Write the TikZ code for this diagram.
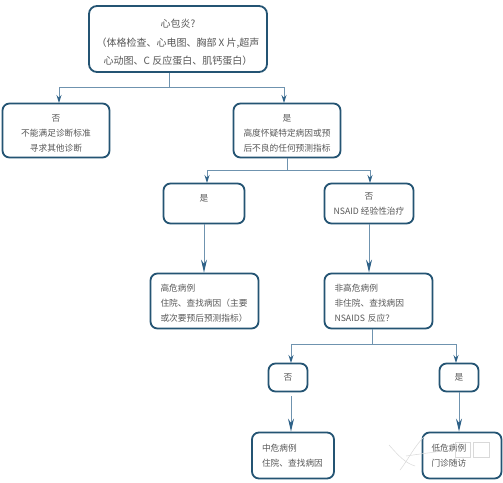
\documentclass[tikz,border=0pt]{standalone}
\usepackage{fontspec}
\setmainfont{Noto Sans CJK SC}
\usetikzlibrary{arrows.meta}
\definecolor{boxline}{HTML}{245473}
\definecolor{linkline}{HTML}{6F93AF}
\definecolor{tipcol}{HTML}{2F6288}
\definecolor{txtcol}{HTML}{585858}
\newcommand{\pad}[1]{\rule{0pt}{#1}}
\tikzset{
	bigbox/.style={draw=boxline,line width=1.8pt,rounded corners=8pt,fill=white,text=txtcol,align=center,font=\fontsize{10}{18.5}\selectfont,inner sep=0pt,minimum width=178pt,minimum height=66pt},
	midbox/.style={draw=boxline,line width=1.8pt,rounded corners=7pt,fill=white,text=txtcol,align=center,font=\fontsize{8.7}{15}\selectfont,inner sep=0pt,minimum height=54pt},
	listbox/.style={midbox,align=left,inner xsep=10pt,text width=#1},
	link/.style={draw=linkline,line width=1pt,-{Stealth[length=8pt,width=5pt,color=tipcol]}},
	linkbig/.style={draw=linkline,line width=1pt,-{Stealth[length=13pt,width=6pt,color=tipcol]}},
	stem/.style={draw=linkline,line width=1pt},
}
\begin{document}
\begin{tikzpicture}[x=1pt,y=-1pt]
	\useasboundingbox[fill=white] (0,0) rectangle (503,482);
	% first row
	\node[bigbox] (pericarditis) at (178,39) {\pad{15pt}心包炎?\\（体格检查、心电图、胸部 X 片,超声\\心动图、C 反应蛋白、肌钙蛋白）};
	\node[midbox,minimum width=107pt] (notmet) at (56,130.5) {\pad{13pt}否\\不能满足诊断标准\\寻求其他诊断};
	\node[midbox,minimum width=107pt] (met) at (287,130.5) {\pad{13pt}是\\高度怀疑特定病因或预\\后不良的任何预测指标};
	% second row
	\node[midbox,minimum width=81pt,minimum height=40pt] (yesrisk) at (204,203.5) {\pad{11pt}是\\~};
	\node[midbox,minimum width=89pt,minimum height=40pt] (norisk) at (369,203.5) {否\\NSAID 经验性治疗};
	\node[listbox=88pt,minimum height=55pt] (high) at (204.5,301) {\pad{11pt}高危病例\\住院、查找病因（主要\\或次要预后预测指标）};
	\node[listbox=88pt,minimum height=55pt] (nothigh) at (378.5,301) {\pad{11pt}非高危病例\\非住院、查找病因\\NSAIDS 反应？};
	% last row
	\node[midbox,minimum width=39pt,minimum height=28pt] (noresp) at (288,377.5) {否};
	\node[midbox,minimum width=39pt,minimum height=28pt] (yesresp) at (459,377.5) {是};
	\node[listbox=62pt,minimum height=46pt] (moderate) at (293,455.5) {中危病例\\住院、查找病因};
	\node[listbox=61pt,minimum height=46pt,inner xsep=9pt] (low) at (462,455.5) {低危病例\\门诊随访};
	% branches
	\coordinate (topfork) at (169,87);
	\coordinate (metfork) at (287,170);
	\coordinate (nothighfork) at (372,344);
	\coordinate (notmettop) at (59,103);
	\coordinate (mettop) at (284,103);
	\coordinate (yesrisktop) at (207,183);
	\coordinate (norisktop) at (370,183);
	\coordinate (norespup) at (291,363);
	\coordinate (yesrespup) at (456,363);
	\draw[stem] (pericarditis.south -| topfork) -- (topfork);
	\draw[link] (topfork) -| (notmettop);
	\draw[link] (topfork) -| (mettop);
	\draw[stem] (met.south) -- (metfork);
	\draw[link] (metfork) -| (yesrisktop);
	\draw[link] (metfork) -| (norisktop);
	\draw[stem] (nothigh.south -| nothighfork) -- (nothighfork);
	\draw[link] (nothighfork) -| (norespup);
	\draw[link] (nothighfork) -| (yesrespup);
	% straight arrows
	\draw[linkbig] (yesrisk.south) -- (yesrisk.south |- high.north);
	\draw[linkbig] (norisk.south) -- (norisk.south |- nothigh.north);
	\coordinate (norespgap) at (291,396);
	\coordinate (yesrespdown) at (459,392);
	\draw[linkbig] (norespgap) -- (norespgap |- moderate.north);
	\draw[linkbig] (yesrespdown) -- (yesrespdown |- low.north);
	% faint mark over the last box
	\draw[black!15,line width=.5pt] (389,445) .. controls (398,455) and (405,463) .. (415,466) (400,470) .. controls (408,460) and (415,445) .. (425,436) (406,456) .. controls (420,454) and (435,452) .. (450,450);
	\draw[black!15,line width=.7pt] (473,442) rectangle (489,457) (455,442) rectangle (470,457);
\end{tikzpicture}
\end{document}
